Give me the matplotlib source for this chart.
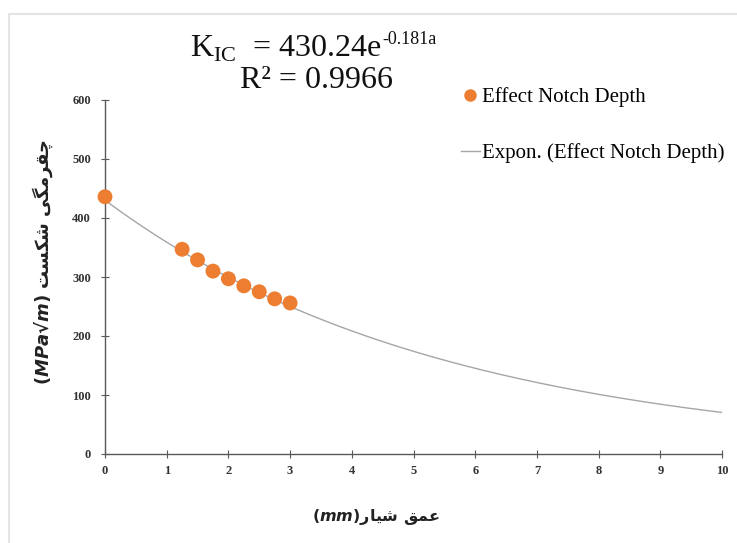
import matplotlib
matplotlib.use("Agg")
import matplotlib.pyplot as plt
import numpy as np
from matplotlib.lines import Line2D
from matplotlib.patches import Rectangle

# ---- data ----
notch_depth = [0.0, 1.25, 1.5, 1.75, 2.0, 2.25, 2.5, 2.75, 3.0]
kic_values = [436, 347, 329, 310, 297, 285, 275, 263, 256]
fit_a = 430.24
fit_b = -0.181
x_ticks = [0, 1, 2, 3, 4, 5, 6, 7, 8, 9, 10]
y_ticks = [0, 100, 200, 300, 400, 500, 600]
series_label = "Effect Notch Depth"
trend_label = "Expon. (Effect Notch Depth)"
# Persian labels in presentation forms, visual (left-to-right) order
xlabel_fa = "\uFEAD\uFE8E\uFEF4\uFEB7 \uFED6\uFEE4\uFECB"          # شیار عمق
ylabel_fa = "\uFE96\uFEB4\uFB91\uFEB7 \uFEF0\uFB95\uFEE3\uFEAE\uFED8\uFB7C"  # شکست چقرمگی

plt.rcParams['mathtext.fontset'] = 'custom'
plt.rcParams['mathtext.rm'] = 'Liberation Serif'
plt.rcParams['mathtext.it'] = 'DejaVu Sans:italic:bold'
plt.rcParams['mathtext.bf'] = 'DejaVu Sans:bold'

W, H = 737, 543
fig = plt.figure(figsize=(7.37, 5.43), dpi=100)
fig.patch.set_facecolor('white')
fig.add_artist(Rectangle((9/W, -0.01), 1.0, 1 - 14/H + 0.01, transform=fig.transFigure,
                         fill=False, edgecolor='#E4E4E4', lw=1.5))

ax = fig.add_axes([105/W, (H-454)/H, 617/W, 354/H])
ax.set_xlim(0, 10)
ax.set_ylim(0, 600)

xs = np.linspace(0, 10, 300)
ax.plot(xs, fit_a*np.exp(fit_b*xs), color='#A6A6A6', lw=1.0, zorder=2)
ax.scatter(notch_depth, kic_values, s=115, color='#ED7D31', edgecolors='none', zorder=3, clip_on=False)

for s in ['top', 'right']:
    ax.spines[s].set_visible(False)
for s in ['left', 'bottom']:
    ax.spines[s].set_color('#595959')
    ax.spines[s].set_linewidth(1.0)
ax.set_xticks(x_ticks)
ax.set_yticks(y_ticks)
ax.tick_params(direction='inout', length=6, width=0.8, color='#595959')
ax.tick_params(axis='x', pad=5)
ax.tick_params(axis='y', pad=7)
for lab in ax.get_xticklabels() + ax.get_yticklabels():
    lab.set_fontfamily('Liberation Serif')
    lab.set_fontweight('bold')
    lab.set_fontsize(9)
    lab.set_color('#333333')

# axis labels
fig.text(376/W, 1 - 517/H, r"($\mathit{mm}$)" + xlabel_fa, fontsize=11.5, family='DejaVu Sans',
         fontweight='bold', ha='center', va='center', color='#222222')
fig.text(43/W, 1 - 262/H, r"($\mathit{MPa}$√$\mathit{m}$) " + ylabel_fa, fontsize=13,
         family='DejaVu Sans', fontweight='bold', rotation=90, ha='center', va='center',
         color='#222222')

# equation
t1 = fig.text(190/W, 1 - 57/H, r"K$_{\mathrm{IC}}$  = 430.24e", fontsize=23,
              family='Liberation Serif', ha='left', va='baseline', color='#111111')
fig.canvas.draw()
x1 = t1.get_window_extent().x1
fig.text(x1 / W + 0.5/W, 1 - 44/H, "-0.181a", fontsize=13,
         family='Liberation Serif', ha='left', va='baseline', color='#111111')
fig.text(316/W, 1 - 80/H, "R² = 0.9966", fontsize=23,
         family='Liberation Serif', ha='center', va='center', color='#111111')

# legend
handles = [Line2D([], [], ls='none', marker='o', markersize=9, color='#ED7D31', markeredgewidth=0),
           Line2D([], [], color='#A6A6A6', lw=1.0)]
leg = fig.legend(handles, [series_label, trend_label], loc='upper left',
                 bbox_to_anchor=(461/W, 1 - 87/H), bbox_transform=fig.transFigure,
                 frameon=False, prop={'family': 'Liberation Serif', 'size': 15},
                 labelspacing=1.75, handlelength=0.9, handletextpad=0.1, borderpad=0,
                 borderaxespad=0)

fig.savefig('out.png', dpi=100)
